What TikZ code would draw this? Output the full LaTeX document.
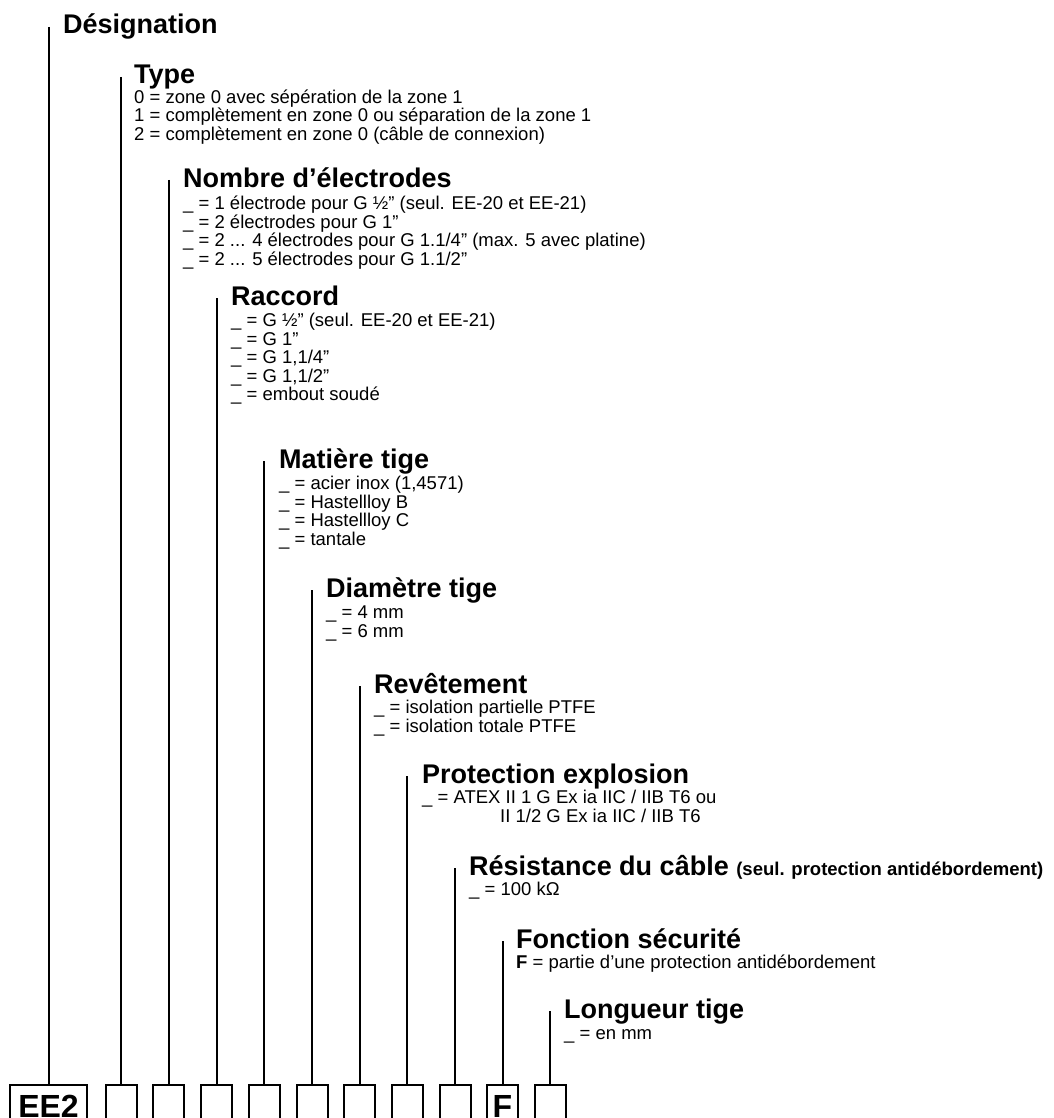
\documentclass[tikz,border=0pt]{standalone}
\usepackage{fontspec}
\setmainfont{Liberation Sans}
\usetikzlibrary{positioning}

\tikzset{
  hd/.style={anchor=base west, inner sep=0pt, font=\fontsize{27}{30}\selectfont\bfseries},
  opts/.style={anchor=base west, inner sep=0pt, align=left, font=\fontsize{18.5}{18.5}\selectfont},
  cell/.style={draw, line width=2pt, minimum width=31pt, minimum height=42pt, anchor=north, inner sep=0pt, font=\fontsize{32}{36}\selectfont\bfseries},
  lead/.style={line width=2pt},
}

\begin{document}
\begin{tikzpicture}[x=1pt,y=-1pt]
  \useasboundingbox (0,0) rectangle (1053,1118);

  % headings and their options (option lists sit on their last line)
  \node[hd] (desig) at (63,34) {Désignation};
  \node[hd] (type) at (134,84) {Type};
  \node[opts] (typeopts) at (134,140.5) {0 = zone 0 avec sépération de la zone 1\\
    1 = complètement en zone 0 ou séparation de la zone 1\\
    2 = complètement en zone 0 (câble de connexion)};
  \node[hd] (nbelec) at (183,187) {Nombre d’électrodes};
  \node[opts] (nbelecopts) at (183,265) {\_ = 1 électrode pour G ½” (seul. EE-20 et EE-21)\\
    \_ = 2 électrodes pour G 1”\\
    \_ = 2 ... 4 électrodes pour G 1.1/4” (max. 5 avec platine)\\
    \_ = 2 ... 5 électrodes pour G 1.1/2”};
  \node[hd] (raccord) at (231,305) {Raccord};
  \node[opts] (raccordopts) at (231,400.5) {\_ = G ½” (seul. EE-20 et EE-21)\\
    \_ = G 1”\\
    \_ = G 1,1/4”\\
    \_ = G 1,1/2”\\
    \_ = embout soudé};
  \node[hd] (matiere) at (279,468) {Matière tige};
  \node[opts] (matiereopts) at (279,545) {\_ = acier inox (1,4571)\\
    \_ = Hastellloy B\\
    \_ = Hastellloy C\\
    \_ = tantale};
  \node[hd] (diam) at (326,597) {Diamètre tige};
  \node[opts] (diamopts) at (326,637) {\_ = 4 mm\\
    \_ = 6 mm};
  \node[hd] (revet) at (374,693) {Revêtement};
  \node[opts] (revetopts) at (374,732) {\_ = isolation partielle PTFE\\
    \_ = isolation totale PTFE};
  \node[hd] (explo) at (422,783) {Protection explosion};
  \node[opts] (exploopts) at (422,822) {\_ = ATEX II 1 G Ex ia IIC / IIB T6 ou\\
    \hspace*{78pt}II 1/2 G Ex ia IIC / IIB T6};
  \node[hd] (resist) at (469,875) {Résistance du câble {\fontsize{18.5}{20}\selectfont (seul. protection antidébordement)}};
  \node[opts] (resistopts) at (469,895.5) {\_ = 100 kΩ};
  \node[hd] (secu) at (516,948) {Fonction sécurité};
  \node[opts] (secuopts) at (516,968.5) {\textbf{F} = partie d’une protection antidébordement};
  \node[hd] (longueur) at (564,1018) {Longueur tige};
  \node[opts] (longueuropts) at (564,1039.5) {\_ = en mm};

  % code boxes
  \node[cell, minimum width=77pt] (b0) at (48.5,1084) {EE2};
  \node[cell] (b1) at (121,1084) {};
  \node[cell] (b2) at (168.5,1084) {};
  \node[cell] (b3) at (216.5,1084) {};
  \node[cell] (b4) at (264,1084) {};
  \node[cell] (b5) at (312,1084) {};
  \node[cell] (b6) at (359.5,1084) {};
  \node[cell] (b7) at (407,1084) {};
  \node[cell] (b8) at (455,1084) {};
  \node[cell] (b9) at (502.5,1084) {F};
  \node[cell] (b10) at (550,1084) {};

  % leads from the headings down to the boxes
  \coordinate (l0) at (48.5,27);
  \coordinate (l1) at (121,77);
  \coordinate (l2) at (168.5,180);
  \coordinate (l3) at (216.5,298);
  \coordinate (l4) at (264,461);
  \coordinate (l5) at (312,590);
  \coordinate (l6) at (359.5,686);
  \coordinate (l7) at (407,776);
  \coordinate (l8) at (455,868);
  \coordinate (l9) at (502.5,941);
  \coordinate (l10) at (550,1011);
  \draw[lead] (l0) -- (b0.north);
  \draw[lead] (l1) -- (b1.north);
  \draw[lead] (l2) -- (b2.north);
  \draw[lead] (l3) -- (b3.north);
  \draw[lead] (l4) -- (b4.north);
  \draw[lead] (l5) -- (b5.north);
  \draw[lead] (l6) -- (b6.north);
  \draw[lead] (l7) -- (b7.north);
  \draw[lead] (l8) -- (b8.north);
  \draw[lead] (l9) -- (b9.north);
  \draw[lead] (l10) -- (b10.north);
\end{tikzpicture}
\end{document}
